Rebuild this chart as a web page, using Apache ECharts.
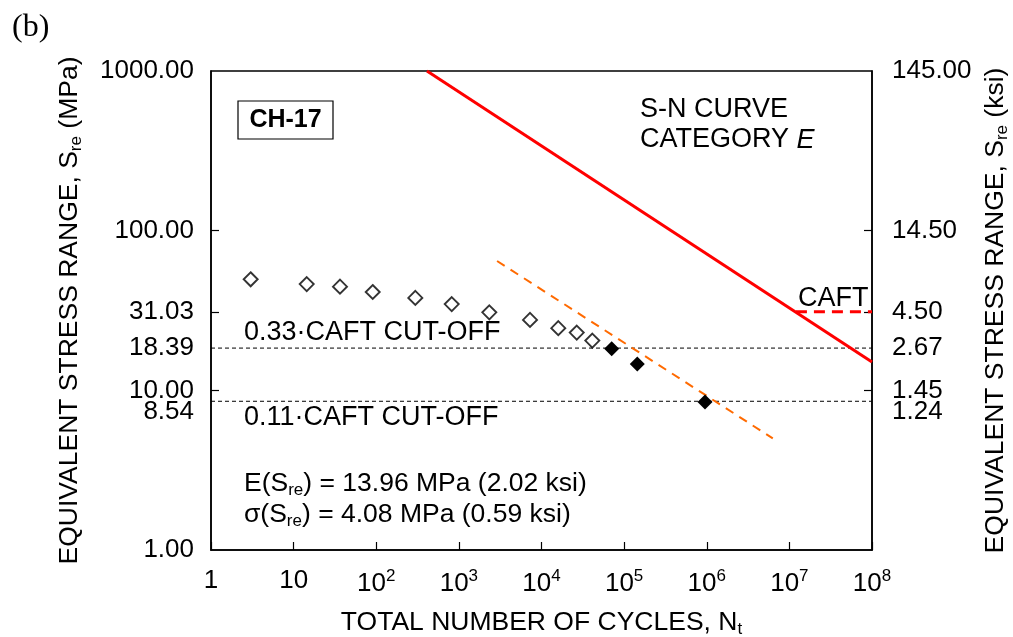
<!DOCTYPE html>
<html><head><meta charset="utf-8">
<script src="https://cdn.jsdelivr.net/npm/echarts@6/dist/echarts.min.js"></script>
<style>html,body{margin:0;padding:0;background:#fff}#c{width:1013px;height:637px}</style>
</head><body><div id="c"></div>
<script>
// ---- data ----
const openN = [3.02, 14.4, 36.4, 90.6, 297, 819, 2336, 7260, 15960, 26700, 41200];
const openS = [49.6, 46.3, 44.6, 41.3, 37.9, 34.7, 30.8, 27.6, 24.5, 23.0, 20.5];
const filledN = [70700, 144300, 953000];
const filledS = [18.2, 14.6, 8.45];
const snCurveN = [411, 1e8];
const snCurveS = [1000, 15.05];
const caftN = [1.2e7, 1e8];
const caftS = [31.03, 31.03];
const fitN = [2900, 6.3e6];
const fitS = [64.6, 5.0];
const cutoffS = [18.39, 8.54];
const xTickValues = [1, 10, 1e2, 1e3, 1e4, 1e5, 1e6, 1e7, 1e8];
const leftLabelValues = [1, 8.54, 10, 18.39, 31.03, 100, 1000];
const leftTickValues = [10, 31.03, 100];
const rightMin = 0.145, rightMax = 145;           // ksi axis extent (unlabelled bottom)
const rightLabelValues = [1.24, 1.45, 2.67, 4.50, 14.50, 145.00];
const rightTickValues = [1.45, 4.50, 14.50];
const lowLabels = [8.54, 1.24]; // labels nudged below their neighbour

const zip = (a, b) => a.map((v, i) => [v, b[i]]);
const FONT = 'Liberation Sans, Arial, sans-serif';
const FS = 26;
const AFS = 27;

const chart = echarts.init(document.getElementById('c'), null, {renderer: 'canvas'});

const series = [
  {type: 'line', data: zip(snCurveN, snCurveS), symbol: 'none', lineStyle: {color: '#ff0000', width: 3}, z: 3},
  {type: 'line', data: zip(caftN, caftS), symbol: 'none', lineStyle: {color: '#ff0000', width: 3, type: [11, 7]}, z: 3},
  {type: 'line', data: zip(fitN, fitS), symbol: 'none', lineStyle: {color: '#ff6a00', width: 2, type: [9, 7]}, z: 3}
];
cutoffS.forEach(v => series.push({type: 'line', data: [[xTickValues[0], v], [xTickValues[xTickValues.length - 1], v]], symbol: 'none', lineStyle: {color: '#000', width: 1, type: [4, 3]}, z: 2}));
series.push({type: 'scatter', data: zip(openN, openS), symbol: 'diamond', symbolSize: 14, itemStyle: {color: '#fff', borderColor: '#000', borderWidth: 1.9}, z: 5});
series.push({type: 'scatter', data: zip(filledN, filledS), symbol: 'diamond', symbolSize: 15, itemStyle: {color: '#000', opacity: 1}, z: 5});

const yFmt = v => lowLabels.some(l => Math.abs(l - v) < 1e-6) ? '{low|' + Number(v).toFixed(2) + '}' : Number(v).toFixed(2);
const rFmt = v => (Math.abs(v - rightMin) < 1e-9 ? '' : yFmt(v));
const nameStyle = {fontFamily: FONT, fontSize: 26.5, color: '#000', rich: {sub: {fontFamily: FONT, fontSize: 17, padding: [13, 0, 0, 0], color: '#000'}}};

const option = {
  animation: false,
  backgroundColor: '#fff',
  textStyle: {fontFamily: FONT},
  grid: {left: 211, right: 141, top: 71, bottom: 87, show: true, borderColor: '#000', borderWidth: 1.5, containLabel: false, outerBoundsMode: 'none'},
  xAxis: {
    type: 'log', logBase: 10, min: 1, max: 1e8,
    name: 'TOTAL NUMBER OF CYCLES, N{sub|t}', nameLocation: 'middle', nameGap: 58,
    nameTextStyle: nameStyle,
    axisLine: {lineStyle: {color: '#000', width: 1.5}},
    axisTick: {inside: true, length: 8, lineStyle: {color: '#000', width: 1.2}},
    splitLine: {show: false},
    axisLabel: {
      margin: 18, color: '#000', fontFamily: FONT, fontSize: FS, hideOverlap: false, showMinLabel: true, showMaxLabel: true,
      formatter: v => { const e = Math.round(Math.log10(v)); return e === 0 ? '1' : e === 1 ? '10' : '10{sup|' + e + '}'; },
      rich: {sup: {fontFamily: FONT, fontSize: 17, padding: [0, 0, 14, 0], color: '#000'}}
    }
  },
  yAxis: [{
    type: 'log', logBase: 10, min: 1, max: 1000, position: 'left',
    name: 'EQUIVALENT STRESS RANGE, S{sub|re} (MPa)', nameLocation: 'middle', nameGap: 126, nameRotate: 90,
    nameTextStyle: nameStyle,
    axisLine: {lineStyle: {color: '#000', width: 1.5}},
    axisTick: {inside: true, length: 8, customValues: leftTickValues, lineStyle: {color: '#000', width: 1.2}},
    splitLine: {show: false},
    axisLabel: {margin: 17, color: '#000', fontFamily: FONT, fontSize: FS, hideOverlap: false, showMinLabel: true, showMaxLabel: true, customValues: leftLabelValues, formatter: yFmt,
      rich: {low: {fontFamily: FONT, fontSize: FS, color: '#000', padding: [22, 0, 0, 0]}}}
  }, {
    type: 'log', logBase: 10, min: rightMin, max: rightMax, position: 'right',
    name: 'EQUIVALENT STRESS RANGE, S{sub|re} (ksi)', nameLocation: 'middle', nameGap: 103, nameRotate: 90,
    nameTextStyle: nameStyle,
    axisLine: {lineStyle: {color: '#000', width: 1.5}},
    axisTick: {inside: true, length: 8, customValues: rightTickValues, lineStyle: {color: '#000', width: 1.2}},
    splitLine: {show: false},
    axisLabel: {margin: 20, color: '#000', fontFamily: FONT, fontSize: FS, hideOverlap: false, showMinLabel: true, showMaxLabel: true, customValues: [rightMin].concat(rightLabelValues), formatter: rFmt,
      rich: {low: {fontFamily: FONT, fontSize: FS, color: '#000', padding: [22, 0, 0, 0]}}}
  }],
  graphic: [
    {type: 'text', left: 12, top: 12, style: {text: '(b)', fontFamily: 'Liberation Serif, Times New Roman, serif', fontSize: 32, fill: '#000'}},
    {type: 'rect', shape: {x: 238, y: 101, width: 95, height: 38}, style: {fill: '#fff', stroke: '#000', lineWidth: 1.2}, z: 10},
    {type: 'text', x: 285.5, y: 120, style: {text: 'CH-17', fontFamily: FONT, fontWeight: 'bold', fontSize: 25, fill: '#000', align: 'center', verticalAlign: 'middle'}, z: 11},
    {type: 'text', x: 640, y: 110, style: {text: 'S-N CURVE', fontFamily: FONT, fontSize: AFS, fill: '#000', verticalAlign: 'middle'}, z: 11},
    {type: 'text', x: 640, y: 140, style: {text: 'CATEGORY {it|E}', fontFamily: FONT, fontSize: AFS, fill: '#000', verticalAlign: 'middle', rich: {it: {fontFamily: FONT, fontSize: AFS, fontStyle: 'italic'}}}, z: 11},
    {type: 'text', x: 798, y: 299, style: {text: 'CAFT', fontFamily: FONT, fontSize: AFS, fill: '#000', verticalAlign: 'middle'}, z: 11},
    {type: 'text', x: 244, y: 333, style: {text: '0.33·CAFT CUT-OFF', fontFamily: FONT, fontSize: AFS, fill: '#000', verticalAlign: 'middle'}, z: 11},
    {type: 'text', x: 244, y: 418, style: {text: '0.11·CAFT CUT-OFF', fontFamily: FONT, fontSize: AFS, fill: '#000', verticalAlign: 'middle'}, z: 11},
    {type: 'text', x: 244, y: 484, style: {text: 'E(S{sub|re}) = 13.96 MPa (2.02 ksi)', fontFamily: FONT, fontSize: 26.5, fill: '#000', verticalAlign: 'middle', rich: {sub: {fontFamily: FONT, fontSize: 17, padding: [12, 0, 0, 0]}}}, z: 11},
    {type: 'text', x: 244, y: 515, style: {text: 'σ(S{sub|re}) = 4.08 MPa (0.59 ksi)', fontFamily: FONT, fontSize: 26.5, fill: '#000', verticalAlign: 'middle', rich: {sub: {fontFamily: FONT, fontSize: 17, padding: [12, 0, 0, 0]}}}, z: 11}
  ],
  series: series.map(s => Object.assign({xAxisIndex: 0, yAxisIndex: 0, clip: false}, s))
};
chart.setOption(option);
</script>
</body></html>
